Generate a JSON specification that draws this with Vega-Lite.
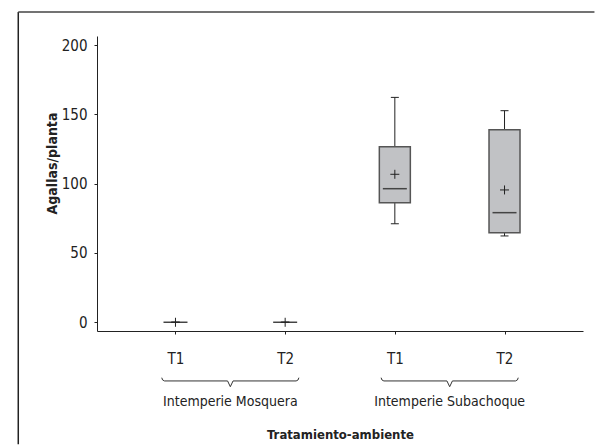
{
  "$schema": "https://vega.github.io/schema/vega-lite/v6.json",
  "width": 486,
  "height": 295,
  "autosize": "none",
  "padding": {"left": 97, "top": 36, "right": 22, "bottom": 117},
  "background": "white",
  "config": {
    "view": {"stroke": null},
    "font": "Liberation Sans Narrow, DejaVu Sans Condensed, sans-serif",
    "axis": {"labelFont": "Liberation Sans Narrow, DejaVu Sans Condensed, sans-serif", "titleFont": "Liberation Sans Narrow, DejaVu Sans Condensed, sans-serif"}
  },
  "datasets": {
    "stats": [
      {"grupo": "Intemperie Mosquera", "trat": "T1", "pos": 1, "min": 0, "q1": 0, "median": 0, "q3": 0, "max": 0, "mean": 0},
      {"grupo": "Intemperie Mosquera", "trat": "T2", "pos": 2, "min": 0, "q1": 0, "median": 0, "q3": 0, "max": 0, "mean": 0},
      {"grupo": "Intemperie Subachoque", "trat": "T1", "pos": 3, "min": 71.1, "q1": 86.3, "median": 96.4, "q3": 126.7, "max": 162.3, "mean": 106.8},
      {"grupo": "Intemperie Subachoque", "trat": "T2", "pos": 4, "min": 62.3, "q1": 64.6, "median": 79.1, "q3": 139.0, "max": 152.7, "mean": 95.5}
    ],
    "braces": [
      {"grupo": "Intemperie Mosquera", "k": 1, "bx": 0.875, "by": -40},
      {"grupo": "Intemperie Mosquera", "k": 2, "bx": 0.882, "by": -41.6},
      {"grupo": "Intemperie Mosquera", "k": 3, "bx": 0.9, "by": -42.35},
      {"grupo": "Intemperie Mosquera", "k": 4, "bx": 1.475, "by": -42.35},
      {"grupo": "Intemperie Mosquera", "k": 5, "bx": 1.5, "by": -46.5},
      {"grupo": "Intemperie Mosquera", "k": 6, "bx": 1.525, "by": -42.35},
      {"grupo": "Intemperie Mosquera", "k": 7, "bx": 2.1, "by": -42.35},
      {"grupo": "Intemperie Mosquera", "k": 8, "bx": 2.118, "by": -41.6},
      {"grupo": "Intemperie Mosquera", "k": 9, "bx": 2.125, "by": -40},
      {"grupo": "Intemperie Subachoque", "k": 1, "bx": 2.875, "by": -40},
      {"grupo": "Intemperie Subachoque", "k": 2, "bx": 2.882, "by": -41.6},
      {"grupo": "Intemperie Subachoque", "k": 3, "bx": 2.9, "by": -42.35},
      {"grupo": "Intemperie Subachoque", "k": 4, "bx": 3.475, "by": -42.35},
      {"grupo": "Intemperie Subachoque", "k": 5, "bx": 3.5, "by": -46.5},
      {"grupo": "Intemperie Subachoque", "k": 6, "bx": 3.525, "by": -42.35},
      {"grupo": "Intemperie Subachoque", "k": 7, "bx": 4.1, "by": -42.35},
      {"grupo": "Intemperie Subachoque", "k": 8, "bx": 4.118, "by": -41.6},
      {"grupo": "Intemperie Subachoque", "k": 9, "bx": 4.125, "by": -40}
    ]
  },
  "data": {"name": "stats"},
  "encoding": {
    "x": {
      "field": "pos", "type": "quantitative",
      "scale": {"domain": [0.33, 4.67], "nice": false, "zero": false},
      "axis": {
        "values": [1, 2, 3, 4],
        "labelExpr": "datum.value % 2 == 1 ? 'T1' : 'T2'",
        "grid": false,
        "domainColor": "#222", "tickColor": "#222", "tickSize": 3,
        "labelFontSize": 15, "labelColor": "#222", "labelPadding": 17,
        "title": "Tratamiento-ambiente",
        "titleFontSize": 13, "titleFontWeight": "bold", "titleColor": "#222",
        "titleBaseline": "alphabetic", "titleY": 107, "titleX": 243
      }
    }
  },
  "layer": [
    {
      "mark": {"type": "rule", "color": "#222", "strokeWidth": 1},
      "encoding": {
        "y": {
          "field": "min", "type": "quantitative",
          "scale": {"domain": [-6.3, 206.6], "nice": false, "zero": false},
          "axis": {
            "values": [0, 50, 100, 150, 200],
            "grid": false,
            "domainColor": "#222", "tickColor": "#222", "tickSize": 3,
            "labelFontSize": 15, "labelColor": "#222", "labelPadding": 7,
            "title": "Agallas/planta",
            "titleFontSize": 14, "titleFontWeight": "bold", "titleColor": "#222",
            "titleAngle": -90, "titleAlign": "center", "titleBaseline": "middle",
            "titleX": -45, "titleY": 127
          }
        },
        "y2": {"field": "max"}
      }
    },
    {
      "mark": {"type": "tick", "orient": "horizontal", "size": 8, "thickness": 1, "color": "#222", "opacity": 1},
      "encoding": {"y": {"field": "max", "type": "quantitative"}}
    },
    {
      "mark": {"type": "tick", "orient": "horizontal", "size": 8, "thickness": 1, "color": "#222", "opacity": 1},
      "encoding": {"y": {"field": "min", "type": "quantitative"}}
    },
    {
      "transform": [{"filter": "datum.q3 > datum.q1"}],
      "mark": {"type": "bar", "width": 31, "fill": "#c1c2c5", "stroke": "#555", "strokeWidth": 1.5},
      "encoding": {"y": {"field": "q1", "type": "quantitative"}, "y2": {"field": "q3"}}
    },
    {
      "mark": {"type": "tick", "orient": "horizontal", "size": 24, "thickness": 1.5, "color": "#444", "opacity": 1},
      "encoding": {"y": {"field": "median", "type": "quantitative"}}
    },
    {
      "mark": {"type": "point", "shape": "M-1,0H1M0,-1V1", "size": 81, "filled": false, "stroke": "#222", "strokeWidth": 1, "opacity": 1},
      "encoding": {"y": {"field": "mean", "type": "quantitative"}}
    },
    {
      "data": {"name": "braces"},
      "mark": {"type": "line", "color": "#333", "strokeWidth": 1, "clip": false},
      "encoding": {
        "x": {"field": "bx", "type": "quantitative"},
        "y": {"field": "by", "type": "quantitative"},
        "detail": {"field": "grupo"},
        "order": {"field": "k"}
      }
    },
    {
      "transform": [{"aggregate": [{"op": "mean", "field": "pos", "as": "pos"}], "groupby": ["grupo"]}],
      "mark": {"type": "text", "fontSize": 14, "color": "#222", "baseline": "alphabetic", "align": "center"},
      "encoding": {
        "x": {"field": "pos", "type": "quantitative"},
        "y": {"datum": -60.4},
        "text": {"field": "grupo"}
      }
    },
    {
      "transform": [{"filter": "datum.pos == 1"}],
      "mark": {"type": "rule", "color": "#222", "strokeWidth": 1.5, "clip": false},
      "encoding": {
        "x": {"datum": -0.4334},
        "y": {"datum": -88},
        "y2": {"datum": 223.9}
      }
    },
    {
      "transform": [{"filter": "datum.pos == 1"}],
      "mark": {"type": "rule", "color": "#444", "strokeWidth": 1.5, "clip": false},
      "encoding": {
        "x": {"datum": -0.4334},
        "x2": {"datum": 4.82},
        "y": {"datum": 223.9}
      }
    }
  ]
}
